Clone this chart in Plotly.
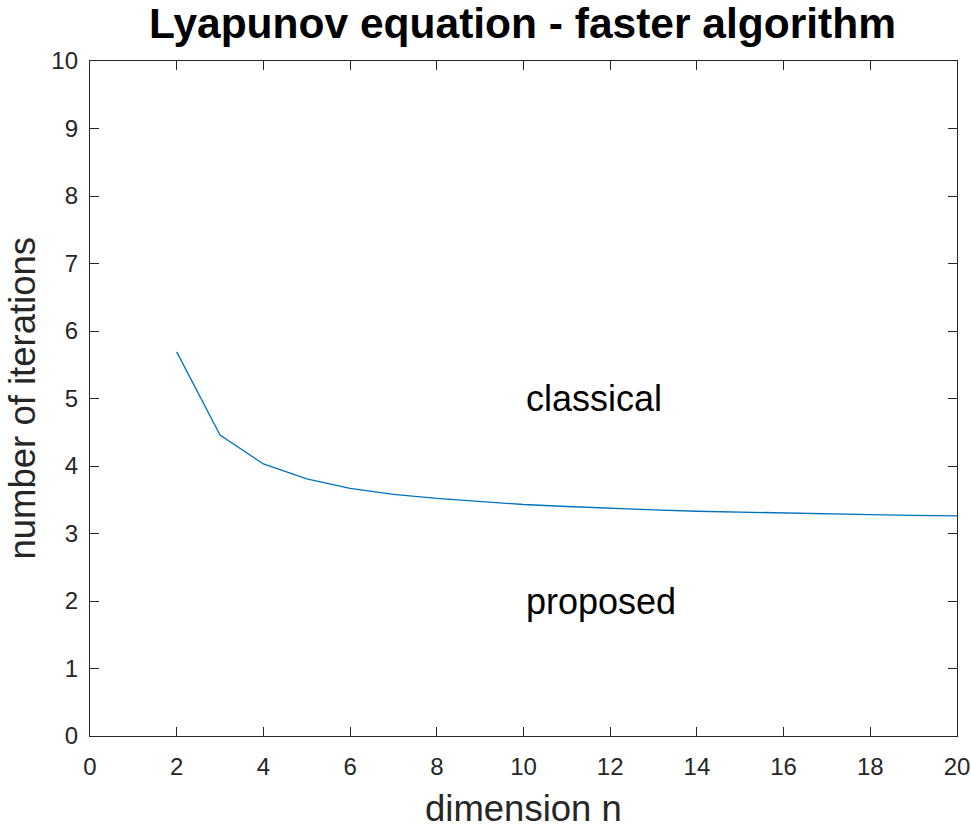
import plotly.graph_objects as go

n_values = list(range(2, 21))
iterations = [5.69, 4.46, 4.03, 3.81, 3.67, 3.58, 3.52, 3.47, 3.43, 3.40,
              3.37, 3.35, 3.33, 3.315, 3.30, 3.29, 3.28, 3.27, 3.26]

label_texts = ["classical", "proposed"]
label_x = [10, 10]
label_y = [5, 2]

title_text = "Lyapunov equation - faster algorithm"
x_title = "dimension n"
y_title = "number of iterations"

FONT = "Liberation Sans, Arial, Helvetica, sans-serif"
AX = "#262626"

fig = go.Figure()
fig.add_trace(go.Scatter(x=n_values, y=iterations, mode="lines",
                         line=dict(color="#0072BD", width=1.3),
                         showlegend=False, hoverinfo="skip"))

for t, xx, yy in zip(label_texts, label_x, label_y):
    fig.add_annotation(x=xx, y=yy, text=t, showarrow=False, xanchor="left",
                       yanchor="middle", font=dict(family=FONT, size=36, color="black"))

# axis titles
fig.add_annotation(xref="paper", yref="paper", x=0.5, y=0, yshift=-72,
                   text=x_title, showarrow=False, xanchor="center", yanchor="middle",
                   font=dict(family=FONT, size=36.5, color=AX))
fig.add_annotation(xref="paper", yref="paper", x=0, y=0.5, xshift=-68,
                   text=y_title, showarrow=False, xanchor="center", yanchor="middle",
                   textangle=-90, font=dict(family=FONT, size=36.5, color=AX))

axis_common = dict(showgrid=False, zeroline=False, showline=True, linecolor=AX,
                   linewidth=1.3, mirror="ticks", ticks="inside", ticklen=9,
                   tickcolor=AX, tickwidth=1.2, automargin=False,
                   tickfont=dict(family=FONT, size=24, color=AX))

fig.update_layout(
    width=971, height=835,
    paper_bgcolor="white", plot_bgcolor="white",
    margin=dict(l=90, r=14, t=61, b=99, autoexpand=False),
    title=dict(text="<b>" + title_text + "</b>", x=0.5381, xanchor="center",
               y=0.9722, yanchor="middle",
               font=dict(family=FONT, size=42.5, color="black")),
    xaxis=dict(range=[0, 20], dtick=2, tick0=0, ticklabelstandoff=9, **axis_common),
    yaxis=dict(range=[0, 10], dtick=1, tick0=0, ticklabelstandoff=6, **axis_common),
)

fig.write_html("out.html", config={"displayModeBar": False},
               post_script="document.body.style.margin='0';document.body.style.overflow='hidden';")
